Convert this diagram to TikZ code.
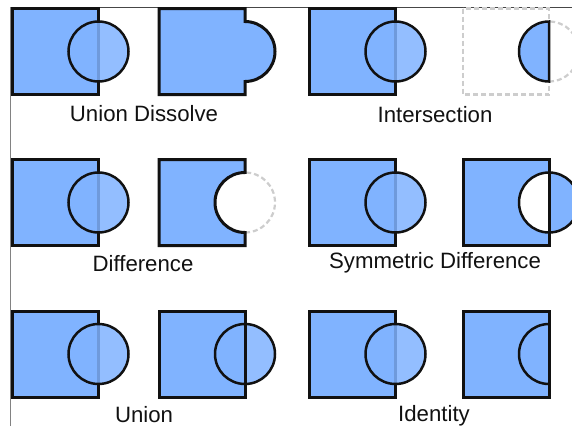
\documentclass[tikz,border=0pt]{standalone}
\usepackage{fontspec}
\setmainfont{Liberation Sans}
\definecolor{setblue}{RGB}{128,179,255}
\definecolor{ink}{RGB}{17,17,17}
\definecolor{ghostgray}{RGB}{205,205,205}
\definecolor{framegray}{RGB}{130,130,130}
\definecolor{frametop}{RGB}{70,70,70}
\tikzset{
  sq/.style={fill=setblue, draw=ink, line width=3pt, line join=miter},
  sqedge/.style={draw=ink, line width=3pt},
  disc/.style={fill=setblue, fill opacity=0.85, draw=ink, line width=2.5pt},
  outl/.style={draw=ink, line width=2.5pt},
  ghost/.style={draw=ghostgray, line width=2.2pt, dash pattern=on 5pt off 3pt},
  lbl/.style={font=\fontsize{22.2}{25}\selectfont, text=ink, anchor=base, inner sep=0pt}
}
\begin{document}
\begin{tikzpicture}[x=1pt, y=1pt]
\useasboundingbox (0,0) rectangle (572,-426);

% frame lines
\draw[framegray, line width=1.2pt] (10.5,-426) -- (10.5,-7);
\draw[frametop, line width=1pt] (10.5,-7) -- (572,-7);

% ---------- row 1 ----------
% operands
\draw[sq] (12.5,-8.5) rectangle (98.5,-94.5);
\draw[disc] (98.5,-51.5) circle[radius=30pt];
% union dissolve result
\draw[sq] (245,-21.5) -- (245,-8.5) -- (159,-8.5) -- (159,-94.5) -- (245,-94.5) -- (245,-81.5)
  arc[start angle=-90, end angle=90, radius=30pt] -- cycle;
% operands
\draw[sq] (309.5,-8.5) rectangle (395.5,-94.5);
\draw[disc] (395.5,-51.5) circle[radius=30pt];
% intersection result
\draw[ghost] (463,-8.5) rectangle (549,-94.5);
\draw[ghost] (549,-81.5) arc[start angle=-90, end angle=90, radius=30pt];
\draw[sq, line width=2.5pt] (549,-21.5) arc[start angle=90, end angle=270, radius=30pt] -- cycle;

% ---------- row 2 ----------
\draw[sq] (12.5,-159.5) rectangle (98.5,-245.5);
\draw[disc] (98.5,-202.5) circle[radius=30pt];
% difference result
\draw[ghost] (245,-232.5) arc[start angle=-90, end angle=90, radius=30pt];
\draw[sq] (245,-172.5) -- (245,-159.5) -- (159,-159.5) -- (159,-245.5) -- (245,-245.5) -- (245,-232.5)
  arc[start angle=270, end angle=90, radius=30pt] -- cycle;
% operands
\draw[sq] (309.5,-159.5) rectangle (395.5,-245.5);
\draw[disc] (395.5,-202.5) circle[radius=30pt];
% symmetric difference result
\fill[setblue] (463,-159.5) rectangle (549,-245.5);
\fill[white] (549,-172.5) arc[start angle=90, end angle=270, radius=30pt] -- cycle;
\fill[setblue] (549,-232.5) arc[start angle=-90, end angle=90, radius=30pt] -- cycle;
\draw[sqedge] (463,-159.5) rectangle (549,-245.5);
\draw[outl] (549,-202.5) circle[radius=30pt];

% ---------- row 3 ----------
\draw[sq] (12.5,-311) rectangle (98.5,-397);
\draw[disc] (98.5,-354) circle[radius=30pt];
% union result
\fill[setblue] (159,-311) rectangle (245,-397);
\draw[disc] (245,-354) circle[radius=30pt];
\draw[sqedge] (159,-311) rectangle (245,-397);
% operands
\draw[sq] (309.5,-311) rectangle (395.5,-397);
\draw[disc] (395.5,-354) circle[radius=30pt];
% identity result
\draw[sq] (463,-311) rectangle (549,-397);
\draw[outl] (549,-324) arc[start angle=90, end angle=270, radius=30pt];

% labels
\node[lbl] (lunidis) at (144,-121.7) {Union Dissolve};
\node[lbl] (linter) at (435,-122.5) {Intersection};
\node[lbl] (ldiff) at (143,-271.5) {Difference};
\node[lbl] (lsym) at (435,-268) {Symmetric Difference};
\node[lbl] (lunion) at (144,-422.5) {Union};
\node[lbl] (lident) at (434,-421.5) {Identity};
\end{tikzpicture}
\end{document}
